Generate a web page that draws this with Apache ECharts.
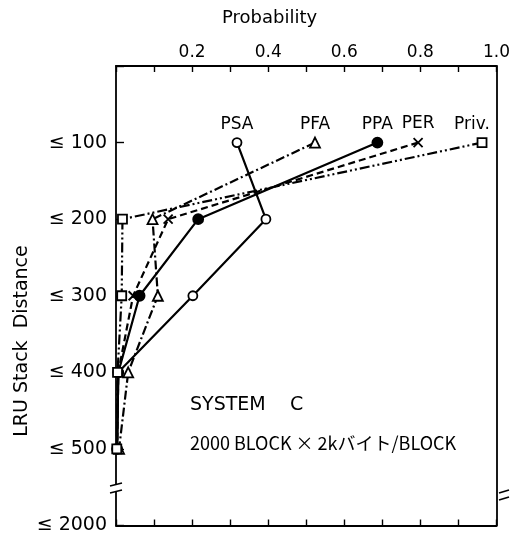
<!DOCTYPE html>
<html><head><meta charset="utf-8">
<script src="https://cdn.jsdelivr.net/npm/echarts@6/dist/echarts.min.js"></script>
<style>html,body{margin:0;padding:0;background:#fff}#c{width:513px;height:535px}</style>
</head><body><div id="c"></div>
<script>
const categories = ['', '≤ 100', '≤ 200', '≤ 300', '≤ 400', '≤ 500', '≤ 2000'];
const xTicks = ['0.2', '0.4', '0.6', '0.8', '1.0'];
// values by category index 1..5 (≤100 .. ≤500)
const PSA  = [0.318, 0.394, 0.202, 0.006, 0.003];
const PFA  = [0.523, 0.096, 0.110, 0.032, 0.008];
const PPA  = [0.687, 0.216, 0.062, 0.006, 0.003];
const PER  = [0.794, 0.137, 0.045, 0.006, 0.003];
const Priv = [0.962, 0.017, 0.015, 0.004, 0.002];
const seriesNames = ['PSA', 'PFA', 'PPA', 'PER', 'Priv.'];

const FONT = 'DejaVu Sans';
function mk(name, vals, symbol, size, fill, dash, labelOffset) {
  return {
    name, type: 'line', symbol, symbolSize: size, z: 5,
    lineStyle: { color: '#000', width: 2.2, type: dash },
    itemStyle: { color: fill, borderColor: '#000', borderWidth: 1.8 },
    data: vals.map((v, i) => i === 0 ? {
      value: [v, i + 1],
      label: { show: true, formatter: name, position: 'top', distance: 4, offset: labelOffset || [0, 0],
               color: '#000', fontSize: 17, fontFamily: FONT }
    } : [v, i + 1])
  };
}
const axisLineStyle = { color: '#000', width: 1.8 };
const chart = echarts.init(document.getElementById('c'), null, { renderer: 'canvas' });
chart.setOption({
  animation: false,
  grid: { left: 116, right: 9, top: 66, bottom: 8 },
  xAxis: [{
    type: 'value', position: 'top', min: 0, max: 1, interval: 0.1,
    axisLine: { onZero: false, lineStyle: axisLineStyle },
    axisTick: { inside: true, length: 6, lineStyle: { color: '#000', width: 1.4 } },
    axisLabel: { color: '#000', fontSize: 17, fontFamily: FONT, margin: 5,
      formatter: v => { const s = v.toFixed(1); return xTicks.indexOf(s) >= 0 ? s : ''; } },
    splitLine: { show: false }
  }, {
    type: 'value', position: 'bottom', min: 0, max: 1, interval: 0.1,
    axisLine: { onZero: false, lineStyle: axisLineStyle },
    axisTick: { inside: true, length: 6, lineStyle: { color: '#000', width: 1.4 } },
    axisLabel: { show: false }, splitLine: { show: false }
  }],
  yAxis: [{
    type: 'value', min: 0, max: 6, interval: 1, inverse: true, position: 'left',
    axisLine: { show: true, onZero: false, lineStyle: axisLineStyle },
    axisTick: { show: true, inside: true, length: 8, lineStyle: { color: '#000', width: 1.4 } },
    axisLabel: { color: '#000', fontSize: 19, fontFamily: FONT, margin: 9,
      formatter: v => categories[v] || '' },
    splitLine: { show: false }
  }, {
    type: 'value', min: 0, max: 6, interval: 1, inverse: true, position: 'right',
    axisLine: { show: true, onZero: false, lineStyle: axisLineStyle },
    axisTick: { show: false }, axisLabel: { show: false }, splitLine: { show: false }
  }],
  series: [
    mk(seriesNames[0], PSA, 'circle', 9, '#fff', 'solid'),
    mk(seriesNames[1], PFA, 'triangle', 10, '#fff', [9, 3, 2, 3]),
    mk(seriesNames[2], PPA, 'circle', 10, '#000', 'solid'),
    mk(seriesNames[3], PER, 'path://M0,0L10,10M10,0L0,10', 9, 'none', [7, 4]),
    mk(seriesNames[4], Priv, 'rect', 9, '#fff', [10, 3, 2, 3, 2, 3], [-10, 0])
  ],
  graphic: [
    { type: 'text', left: 222, top: 9, style: { text: 'Probability', fontSize: 18, fontFamily: FONT, fill: '#000' } },
    { type: 'text', x: 22, y: 341, rotation: Math.PI / 2, style: { text: 'LRU Stack  Distance', fontSize: 19, fontFamily: FONT, fill: '#000', align: 'center', verticalAlign: 'middle' } },
    { type: 'text', left: 190, top: 396, style: { text: 'SYSTEM    C', fontSize: 19, fontFamily: FONT, fill: '#000' } },
    { type: 'text', left: 190, top: 434, style: { text: '2000 BLOCK × 2kバイト/BLOCK', fontSize: 18, fontFamily: 'Noto Sans CJK JP', fill: '#000' } },
    { type: 'rect', shape: { x: 110, y: 484, width: 12, height: 8 }, style: { fill: '#fff' }, z: 100 },
    { type: 'line', shape: { x1: 110, y1: 486, x2: 122, y2: 483 }, style: { stroke: '#000', lineWidth: 1.6 }, z: 101 },
    { type: 'line', shape: { x1: 110, y1: 493, x2: 122, y2: 490 }, style: { stroke: '#000', lineWidth: 1.6 }, z: 101 },
    { type: 'rect', shape: { x: 498, y: 491, width: 12, height: 8 }, style: { fill: '#fff' }, z: 100 },
    { type: 'line', shape: { x1: 499, y1: 493, x2: 509, y2: 490 }, style: { stroke: '#000', lineWidth: 1.6 }, z: 101 },
    { type: 'line', shape: { x1: 499, y1: 500, x2: 509, y2: 497 }, style: { stroke: '#000', lineWidth: 1.6 }, z: 101 }
  ]
});
</script></body></html>
